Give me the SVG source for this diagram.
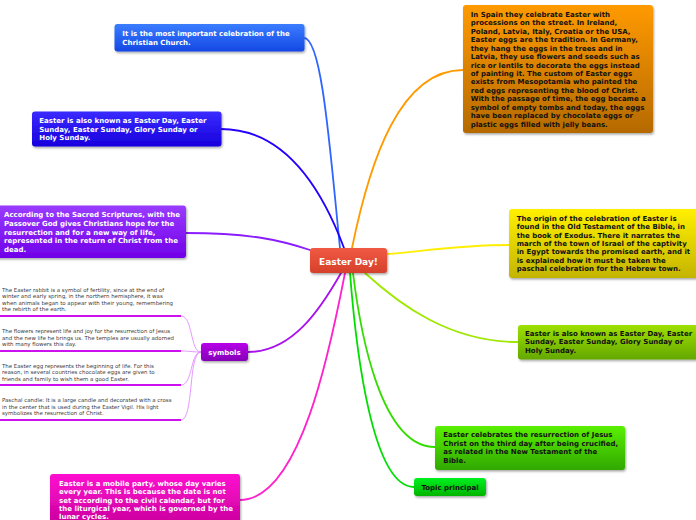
<svg xmlns="http://www.w3.org/2000/svg" width="696" height="520" viewBox="0 0 696 520">
<defs>
<filter id="sh" x="-5%" y="-10%" width="115%" height="130%"><feDropShadow dx="1" dy="1.5" stdDeviation="1" flood-color="#000" flood-opacity="0.35"/></filter>
<linearGradient id="gBlue" x1="0" y1="0" x2="0" y2="1"><stop offset="0" stop-color="#3b7dff"/><stop offset="1" stop-color="#1448e4"/></linearGradient>
<linearGradient id="gIndigo" x1="0" y1="0" x2="0" y2="1"><stop offset="0" stop-color="#3a2bff"/><stop offset="1" stop-color="#1700dd"/></linearGradient>
<linearGradient id="gViolet" x1="0" y1="0" x2="0" y2="1"><stop offset="0" stop-color="#9a3cff"/><stop offset="1" stop-color="#7000e8"/></linearGradient>
<linearGradient id="gOrange" x1="0" y1="0" x2="0" y2="1"><stop offset="0" stop-color="#ff9a00"/><stop offset="1" stop-color="#b56a00"/></linearGradient>
<linearGradient id="gYellow" x1="0" y1="0" x2="0" y2="1"><stop offset="0" stop-color="#fff000"/><stop offset="1" stop-color="#c4b400"/></linearGradient>
<linearGradient id="gLime" x1="0" y1="0" x2="0" y2="1"><stop offset="0" stop-color="#9ee000"/><stop offset="1" stop-color="#64a800"/></linearGradient>
<linearGradient id="gGreen" x1="0" y1="0" x2="0" y2="1"><stop offset="0" stop-color="#5af000"/><stop offset="1" stop-color="#30a800"/></linearGradient>
<linearGradient id="gTopic" x1="0" y1="0" x2="0" y2="1"><stop offset="0" stop-color="#00f020"/><stop offset="1" stop-color="#00b400"/></linearGradient>
<linearGradient id="gSym" x1="0" y1="0" x2="0" y2="1"><stop offset="0" stop-color="#b800e8"/><stop offset="1" stop-color="#8400b8"/></linearGradient>
<linearGradient id="gPink" x1="0" y1="0" x2="0" y2="1"><stop offset="0" stop-color="#ff10d0"/><stop offset="1" stop-color="#c8009c"/></linearGradient>
<linearGradient id="gCenter" x1="0" y1="0" x2="0" y2="1"><stop offset="0" stop-color="#f05a42"/><stop offset="1" stop-color="#d6402c"/></linearGradient>
</defs>
<style>
.box{filter:url(#sh)}
.t{font-family:"DejaVu Sans",Verdana,sans-serif;font-weight:bold;font-size:7px}
.w{fill:#ffffff}
.k{fill:#111111}
.s{font-family:"DejaVu Sans",Verdana,sans-serif;font-size:5.45px;fill:#404040}
.c{fill:none;stroke-width:1.8;stroke-linecap:round}
.cs{fill:none;stroke:#e28cff;stroke-width:0.9}
.ul{stroke:#cc11ee;stroke-width:2}
</style>

<g id="connectors">
<path class="c" stroke="#2f66ff" d="M304,38 C322,38 330,150 340,248"/>
<path class="c" stroke="#2400ff" d="M221,129 C290,129 326,200 344,248"/>
<path class="c" stroke="#8a1cff" d="M186,233 C250,233 280,240 310,250"/>
<path class="c" stroke="#ff9a00" d="M463,70 C400,70 370,160 352,248"/>
<path class="c" stroke="#ffee00" d="M509,245 C455,245 420,252 387,254"/>
<path class="c" stroke="#a0e800" d="M518,342 C450,342 400,305 365,273"/>
<path class="c" stroke="#33dd00" d="M435,447 C380,447 360,330 353,273"/>
<path class="c" stroke="#00dd00" d="M414,487 C372,487 356,350 350,273"/>
<path class="c" stroke="#aa10ee" d="M248,352 C292,352 320,310 341,273"/>
<path class="c" stroke="#ff22cc" d="M240,500 C300,500 330,350 345,273"/>
<path class="cs" d="M201,352 C190,352 193,316 181,316"/>
<path class="cs" d="M201,352 C192,352 190,351 181,351"/>
<path class="cs" d="M201,352 C190,352 193,385 181,385"/>
<path class="cs" d="M201,352 C188,352 194,420 181,420"/>
</g>

<g id="center">
<rect class="box" x="310" y="248" width="77" height="25" rx="3" fill="url(#gCenter)"/>
<text class="t w" x="348.5" y="264.5" text-anchor="middle" style="font-size:9px">Easter Day!</text>
</g>

<g id="n1">
<rect class="box" x="114.5" y="24" width="190" height="27.5" rx="3" fill="url(#gBlue)"/>
<text class="t w"><tspan x="122.3" y="36">It is the most important celebration of the</tspan><tspan x="122.3" y="45">Christian Church.</tspan></text>
</g>

<g id="n2">
<rect class="box" x="32" y="111.5" width="189.5" height="35" rx="3" fill="url(#gIndigo)"/>
<text class="t w"><tspan x="39.3" y="123.3">Easter is also known as Easter Day, Easter</tspan><tspan x="39.3" y="131.8">Sunday, Easter Sunday, Glory Sunday or</tspan><tspan x="39.3" y="140.3">Holy Sunday.</tspan></text>
</g>

<g id="n3">
<rect class="box" x="-4" y="205.5" width="190" height="52.5" rx="3" fill="url(#gViolet)"/>
<text class="t w"><tspan x="4" y="217.3">According to the Sacred Scriptures, with the</tspan><tspan x="4" y="225.9">Passover God gives Christians hope for the</tspan><tspan x="4" y="234.5">resurrection and for a new way of life,</tspan><tspan x="4" y="243.1">represented in the return of Christ from the</tspan><tspan x="4" y="251.7">dead.</tspan></text>
</g>

<g id="n4">
<rect class="box" x="463" y="5" width="190" height="128" rx="3" fill="url(#gOrange)"/>
<text class="t k"><tspan x="470.7" y="16.7">In Spain they celebrate Easter with</tspan><tspan x="470.7" y="25.2">processions on the street. In Ireland,</tspan><tspan x="470.7" y="33.6">Poland, Latvia, Italy, Croatia or the USA,</tspan><tspan x="470.7" y="42.1">Easter eggs are the tradition. In Germany,</tspan><tspan x="470.7" y="50.5">they hang the eggs in the trees and in</tspan><tspan x="470.7" y="59">Latvia, they use flowers and seeds such as</tspan><tspan x="470.7" y="67.5">rice or lentils to decorate the eggs instead</tspan><tspan x="470.7" y="75.9">of painting it. The custom of Easter eggs</tspan><tspan x="470.7" y="84.4">exists from Mesopotamia who painted the</tspan><tspan x="470.7" y="92.8">red eggs representing the blood of Christ.</tspan><tspan x="470.7" y="101.3">With the passage of time, the egg became a</tspan><tspan x="470.7" y="109.8">symbol of empty tombs and today, the eggs</tspan><tspan x="470.7" y="118.2">have been replaced by chocolate eggs or</tspan><tspan x="470.7" y="126.7">plastic eggs filled with jelly beans.</tspan></text>
</g>

<g id="n5">
<rect class="box" x="509" y="209" width="192" height="69" rx="3" fill="url(#gYellow)"/>
<text class="t k"><tspan x="516.7" y="221">The origin of the celebration of Easter is</tspan><tspan x="516.7" y="229.3">found in the Old Testament of the Bible, in</tspan><tspan x="516.7" y="237.6">the book of Exodus. There it narrates the</tspan><tspan x="516.7" y="245.9">march of the town of Israel of the captivity</tspan><tspan x="516.7" y="254.2">in Egypt towards the promised earth, and it</tspan><tspan x="516.7" y="262.5">is explained how it must be taken the</tspan><tspan x="516.7" y="270.8">paschal celebration for the Hebrew town.</tspan></text>
</g>

<g id="n6">
<rect class="box" x="518" y="325" width="183" height="34.5" rx="3" fill="url(#gLime)"/>
<text class="t k"><tspan x="525" y="336">Easter is also known as Easter Day, Easter</tspan><tspan x="525" y="344.4">Sunday, Easter Sunday, Glory Sunday or</tspan><tspan x="525" y="352.8">Holy Sunday.</tspan></text>
</g>

<g id="n7">
<rect class="box" x="435" y="426" width="190" height="44" rx="3" fill="url(#gGreen)"/>
<text class="t k"><tspan x="443.3" y="437.3">Easter celebrates the resurrection of Jesus</tspan><tspan x="443.3" y="445.8">Christ on the third day after being crucified,</tspan><tspan x="443.3" y="454.3">as related in the New Testament of the</tspan><tspan x="443.3" y="462.8">Bible.</tspan></text>
</g>

<g id="n8">
<rect class="box" x="414" y="478" width="72" height="18" rx="3" fill="url(#gTopic)"/>
<text class="t k" x="450" y="489.8" text-anchor="middle">Topic principal</text>
</g>

<g id="symbols">
<rect class="box" x="201" y="343" width="47" height="18" rx="3" fill="url(#gSym)"/>
<text class="t w" x="224.5" y="355" text-anchor="middle">symbols</text>
</g>

<g id="s1">
<text class="s"><tspan x="2" y="291.5">The Easter rabbit is a symbol of fertility, since at the end of</tspan><tspan x="2" y="298.1">winter and early spring, in the northern hemisphere, it was</tspan><tspan x="2" y="304.8">when animals began to appear with their young, remembering</tspan><tspan x="2" y="311.4">the rebirth of the earth.</tspan></text>
<line class="ul" x1="0" y1="316" x2="181" y2="316"/>
</g>
<g id="s2">
<text class="s"><tspan x="2" y="333">The flowers represent life and joy for the resurrection of Jesus</tspan><tspan x="2" y="339.7">and the new life he brings us. The temples are usually adorned</tspan><tspan x="2" y="346.3">with many flowers this day.</tspan></text>
<line class="ul" x1="0" y1="351" x2="181" y2="351"/>
</g>
<g id="s3">
<text class="s"><tspan x="2" y="367.5">The Easter egg represents the beginning of life. For this</tspan><tspan x="2" y="374.1">reason, in several countries chocolate eggs are given to</tspan><tspan x="2" y="380.7">friends and family to wish them a good Easter.</tspan></text>
<line class="ul" x1="0" y1="385" x2="181" y2="385"/>
</g>
<g id="s4">
<text class="s"><tspan x="2" y="402">Paschal candle: It is a large candle and decorated with a cross</tspan><tspan x="2" y="408.6">in the center that is used during the Easter Vigil. His light</tspan><tspan x="2" y="415.3">symbolizes the resurrection of Christ.</tspan></text>
<line class="ul" x1="0" y1="420" x2="181" y2="420"/>
</g>

<g id="n9">
<rect class="box" x="50" y="474" width="190" height="52" rx="3" fill="url(#gPink)"/>
<text class="t w"><tspan x="59" y="486">Easter is a mobile party, whose day varies</tspan><tspan x="59" y="494.3">every year. This is because the date is not</tspan><tspan x="59" y="502.6">set according to the civil calendar, but for</tspan><tspan x="59" y="510.9">the liturgical year, which is governed by the</tspan><tspan x="59" y="519.2">lunar cycles.</tspan></text>
</g>
</svg>
